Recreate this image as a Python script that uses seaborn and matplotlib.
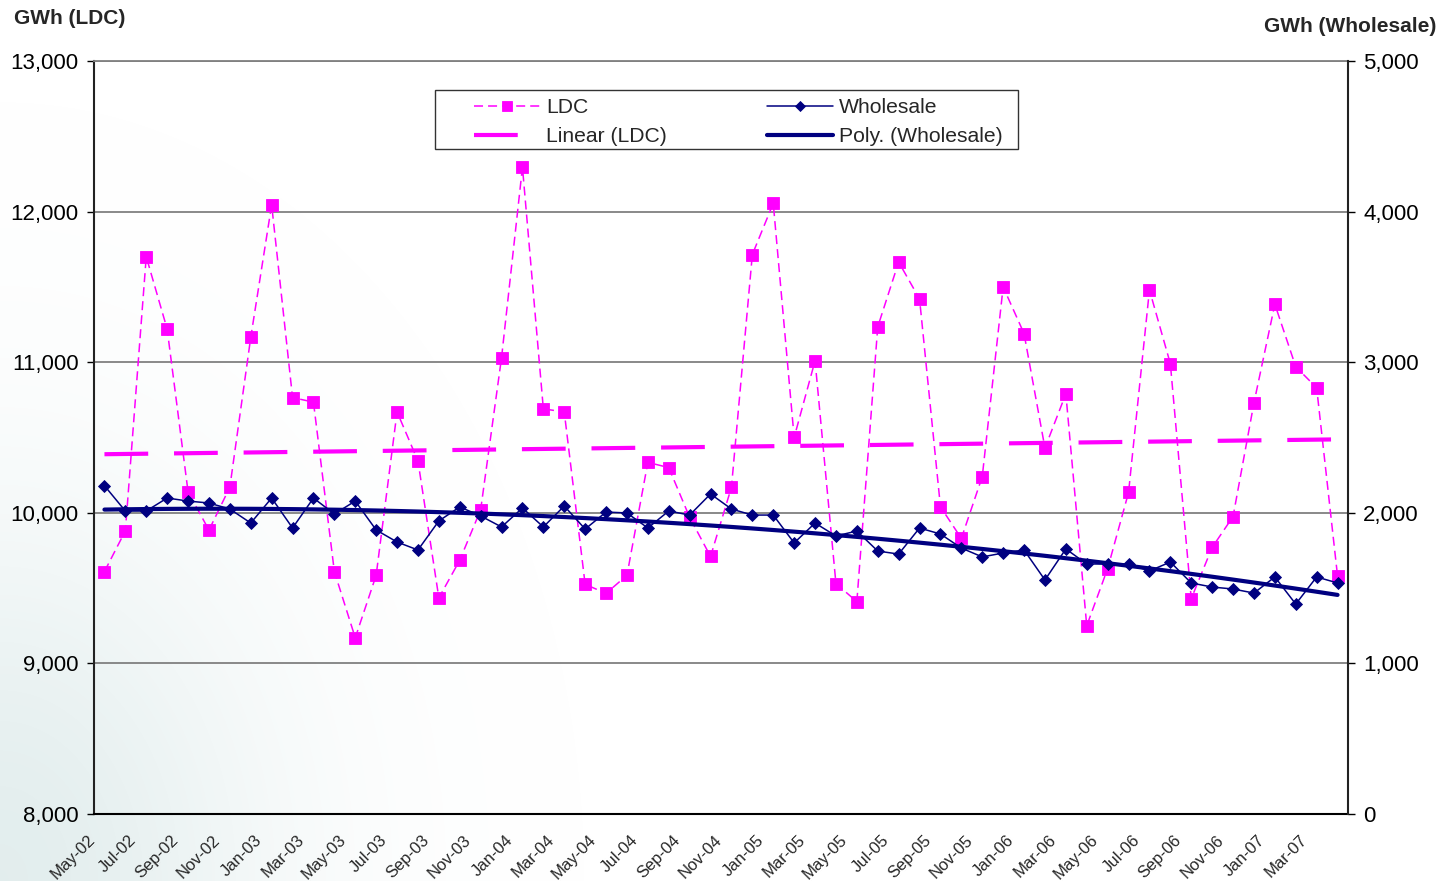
import numpy as np
import pandas as pd
import matplotlib
matplotlib.use("Agg")
import matplotlib.pyplot as plt
import matplotlib.transforms as mtransforms
from matplotlib.patches import Rectangle
from matplotlib.ticker import StrMethodFormatter
import seaborn as sns

# Monthly energy, May 2002 - April 2007
months = [
    "May-02", "Jun-02", "Jul-02", "Aug-02", "Sep-02", "Oct-02", "Nov-02", "Dec-02",
    "Jan-03", "Feb-03", "Mar-03", "Apr-03", "May-03", "Jun-03", "Jul-03", "Aug-03",
    "Sep-03", "Oct-03", "Nov-03", "Dec-03", "Jan-04", "Feb-04", "Mar-04", "Apr-04",
    "May-04", "Jun-04", "Jul-04", "Aug-04", "Sep-04", "Oct-04", "Nov-04", "Dec-04",
    "Jan-05", "Feb-05", "Mar-05", "Apr-05", "May-05", "Jun-05", "Jul-05", "Aug-05",
    "Sep-05", "Oct-05", "Nov-05", "Dec-05", "Jan-06", "Feb-06", "Mar-06", "Apr-06",
    "May-06", "Jun-06", "Jul-06", "Aug-06", "Sep-06", "Oct-06", "Nov-06", "Dec-06",
    "Jan-07", "Feb-07", "Mar-07", "Apr-07",
]

# LDC energy (GWh, left axis)
ldc_gwh = [
    9610, 9880, 11700, 11220, 10140, 9885, 10170, 11165, 12045, 10765,
    10735, 9610, 9170, 9585, 10670, 10345, 9435, 9685, 10020, 11030,
    12295, 10690, 10670, 9525, 9465, 9585, 10335, 10300, 9970, 9710,
    10170, 11715, 12055, 10500, 11010, 9530, 9410, 11235, 11665, 11420,
    10040, 9830, 10240, 11500, 11190, 10430, 10790, 9250, 9630, 10135,
    11480, 10990, 9430, 9770, 9975, 10730, 11385, 10970, 10830, 9580,
]

# Wholesale energy (GWh, right axis)
wholesale_gwh = [
    2180, 2012, 2012, 2098, 2078, 2065, 2025, 1932, 2098, 1899,
    2098, 1992, 2078, 1886, 1806, 1753, 1946, 2039, 1979, 1906,
    2032, 1906, 2045, 1892, 2005, 1999, 1899, 2012, 1985, 2125,
    2025, 1985, 1985, 1800, 1932, 1846, 1879, 1746, 1726, 1899,
    1859, 1766, 1707, 1733, 1753, 1554, 1760, 1660, 1660, 1660,
    1614, 1673, 1534, 1507, 1494, 1467, 1574, 1394, 1574, 1534,
]

left_ticks = [8000, 9000, 10000, 11000, 12000, 13000]
right_ticks = [0, 1000, 2000, 3000, 4000, 5000]

MAGENTA = "#FF00FF"
NAVY = "#000080"

sns.set_theme(style="white")
plt.rcParams["font.family"] = ["Liberation Sans", "DejaVu Sans"]

W, H = 1444, 881
fig = plt.figure(figsize=(W / 100, H / 100), dpi=100)
fig.patch.set_facecolor("white")

# soft tinted backdrop in the lower-left corner of the slide
bg = fig.add_axes([0, 0, 1, 1], zorder=-10)
yy, xx = np.mgrid[0:H, 0:W]
dy = (H - 1 - yy).astype(float)
alpha = 0.42 * np.exp(-((xx / 270.0) ** 2 + (dy / 360.0) ** 2))
rgba = np.zeros((H, W, 4))
rgba[..., 0] = 0.74
rgba[..., 1] = 0.84
rgba[..., 2] = 0.84
rgba[..., 3] = alpha
bg.imshow(rgba, aspect="auto", origin="upper", extent=[0, 1, 0, 1])
bg.set_axis_off()

ax = fig.add_axes([94 / W, 1 - 814 / H, (1348 - 94) / W, (814 - 61) / H])
ax.set_facecolor("none")

idx = np.arange(len(months))
df = pd.DataFrame({"idx": idx, "month": months, "LDC": ldc_gwh, "Wholesale": wholesale_gwh})

# trend lines fitted to the series
lin = np.polyfit(idx, df["LDC"], 1)
df["Linear (LDC)"] = np.polyval(lin, idx)
poly = np.polyfit(idx, df["Wholesale"], 2)
df["Poly. (Wholesale)"] = np.polyval(poly, idx)

sns.lineplot(data=df, x="idx", y="LDC", ax=ax, color=MAGENTA, lw=1.1,
             linestyle=(0, (5.9, 3.3)), marker="s", ms=8, mec=MAGENTA, mew=0.6,
             label="LDC", legend=False, zorder=3)
sns.lineplot(data=df, x="idx", y="Linear (LDC)", ax=ax, color=MAGENTA, lw=3,
             linestyle=(0, (10.5, 6.2)), label="Linear (LDC)", legend=False, zorder=2)

ax.set_xlim(-0.5, len(months) - 0.5)
ax.set_ylim(left_ticks[0], left_ticks[-1])
ax.set_yticks(left_ticks)
ax.yaxis.set_major_formatter(StrMethodFormatter("{x:,.0f}"))
ax.yaxis.grid(True, color="#808080", lw=1.3)
ax.xaxis.grid(False)
ax.set_axisbelow(True)
ax.set_xlabel("")
ax.set_ylabel("")

ax.set_xticks(idx[::2])
ax.set_xticklabels(months[::2], rotation=45, ha="right", va="center",
                   rotation_mode="anchor", fontsize=12)
ax.set_xticks(np.arange(-0.5, len(months), 1.0), minor=True)
ax.tick_params(axis="x", which="major", length=0, pad=17)
ax.tick_params(axis="x", which="minor", direction="inout", length=7, width=1, color="black")
ax.tick_params(axis="y", direction="out", length=5, width=1, color="black",
               pad=6, labelsize=16, labelcolor="black", left=True)
shift = mtransforms.ScaledTranslation(-0.12, 0, fig.dpi_scale_trans)
for lab in ax.get_xticklabels():
    lab.set_transform(lab.get_transform() + shift)

ax.spines["left"].set_color("#222222")
ax.spines["left"].set_linewidth(1.5)
ax.spines["bottom"].set_color("black")
ax.spines["bottom"].set_linewidth(1.5)
ax.spines["top"].set_color("#808080")
ax.spines["top"].set_linewidth(1.3)
ax.spines["right"].set_visible(False)

ax2 = ax.twinx()
sns.lineplot(data=df, x="idx", y="Wholesale", ax=ax2, color=NAVY, lw=1.1,
             marker="D", ms=6, mec=NAVY, mew=0.6, label="Wholesale", legend=False, zorder=3)
sns.lineplot(data=df, x="idx", y="Poly. (Wholesale)", ax=ax2, color=NAVY, lw=3,
             label="Poly. (Wholesale)", legend=False, zorder=2)
ax2.set_ylim(right_ticks[0], right_ticks[-1])
ax2.set_yticks(right_ticks)
ax2.yaxis.set_major_formatter(StrMethodFormatter("{x:,.0f}"))
ax2.set_ylabel("")
ax2.grid(False)
ax2.tick_params(axis="y", direction="out", length=5, width=1, color="black",
                pad=6, labelsize=16, labelcolor="black", right=True)
for s in ("left", "top", "bottom"):
    ax2.spines[s].set_visible(False)
ax2.spines["right"].set_color("#222222")
ax2.spines["right"].set_linewidth(1.5)

# axis titles
fig.text(14 / W, 1 - 19 / H, "GWh (LDC)", fontsize=15, fontweight="bold", ha="left", va="center")
fig.text(1436 / W, 1 - 26 / H, "GWh (Wholesale)", fontsize=15, fontweight="bold",
         ha="right", va="center")

# legend box
box = Rectangle((435 / W, 1 - 149 / H), (1018 - 435) / W, (149 - 90) / H,
                transform=fig.transFigure, facecolor="white", edgecolor="#333333",
                lw=1.0, zorder=20, clip_on=False)
ax2.add_artist(box)
h1, l1 = ax.get_legend_handles_labels()
h2, l2 = ax2.get_legend_handles_labels()
leg = ax2.legend(h1 + h2, l1 + l2, ncol=2, loc="upper left",
                 bbox_to_anchor=(468 / W, 1 - 92 / H), bbox_transform=fig.transFigure,
                 frameon=False, fontsize=15.2, handlelength=3.1, handletextpad=0.3,
                 columnspacing=4.75, labelspacing=0.48, borderpad=0.3,
                 borderaxespad=0, numpoints=1, markerscale=0.85)
leg.set_zorder(30)

fig.savefig("out.png", dpi=100)
